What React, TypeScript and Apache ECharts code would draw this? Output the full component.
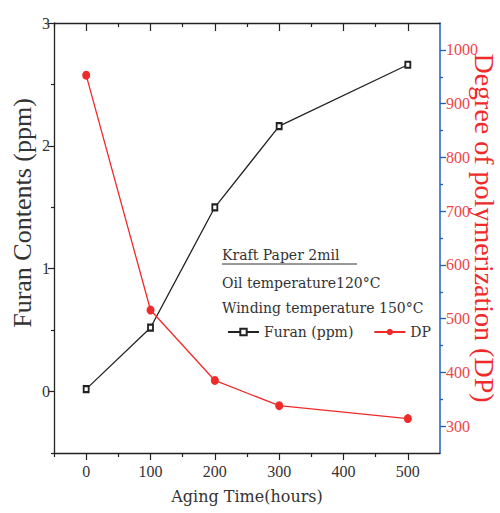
import React, { useEffect, useRef } from "react";
import * as echarts from "echarts";

const hours = [0, 100, 200, 300, 500];
const furanValues = [0.02, 0.52, 1.5, 2.16, 2.66];
const dpValues = [953, 516, 385, 338, 314];

const xMajor = [0, 100, 200, 300, 400, 500];
const xMinor = [-50, 50, 150, 250, 350, 450];
const leftMajor = [0, 1, 2, 3];
const leftMinor = [-0.5, 0.5, 1.5, 2.5];
const rightMajor = [300, 400, 500, 600, 700, 800, 900, 1000];
const rightMinor = [350, 450, 550, 650, 750, 850, 950];

const annotationLines = ["Kraft Paper 2mil", "Oil temperature120°C", "Winding temperature 150°C"];

const SERIF = "'Liberation Serif', 'Times New Roman', serif";
const ANNO = "'DejaVu Serif', serif";
const BLUE = "#1f5fc4";
const RED = "#ee2a2a";

export default function App() {
  const ref = useRef<HTMLDivElement>(null);
  useEffect(() => {
    if (!ref.current) return;
    const chart = echarts.init(ref.current, null, { renderer: "svg" });
    const blackLine = { show: true, onZero: false, lineStyle: { color: "#222", width: 1.3 } };
    const blueLine = { show: true, onZero: false, lineStyle: { color: BLUE, width: 1.5 } };
    const xBase = { type: "value", min: -50, max: 550, interval: 50, splitLine: { show: false } };
    const lBase = { type: "value", min: -0.5, max: 3, interval: 0.5, splitLine: { show: false } };
    const rBase = { type: "value", min: 250, max: 1050, interval: 50, splitLine: { show: false } };
    const plain = (v: number) => String(v);
    chart.setOption({
      animation: false,
      backgroundColor: "#fff",
      grid: { left: 54, right: 60, top: 23, bottom: 60 },
      xAxis: [
        {
          ...xBase,
          position: "bottom",
          axisLine: blackLine,
          axisTick: { show: true, customValues: xMajor, length: 7, lineStyle: { color: "#222", width: 1.2 } },
          axisLabel: { show: true, customValues: xMajor, formatter: plain, color: "#333", fontFamily: SERIF, fontSize: 16, margin: 10 },
        },
        {
          ...xBase,
          position: "bottom",
          axisLine: { show: false, onZero: false },
          axisTick: { show: true, customValues: xMinor, length: 4, lineStyle: { color: "#222", width: 1.2 } },
          axisLabel: { show: false },
        },
        {
          ...xBase,
          position: "top",
          axisLine: blackLine,
          axisTick: { show: true, inside: true, customValues: xMajor, length: 8, lineStyle: { color: "#222", width: 1.2 } },
          axisLabel: { show: false },
        },
        {
          ...xBase,
          position: "top",
          axisLine: { show: false, onZero: false },
          axisTick: { show: true, inside: true, customValues: xMinor, length: 4, lineStyle: { color: "#222", width: 1.2 } },
          axisLabel: { show: false },
        },
      ],
      yAxis: [
        {
          ...lBase,
          position: "left",
          axisLine: blackLine,
          axisTick: { show: true, customValues: leftMajor, length: 6, lineStyle: { color: "#222", width: 1.2 } },
          axisLabel: { show: true, customValues: leftMajor, formatter: plain, color: "#333", fontFamily: SERIF, fontSize: 16, margin: 4 },
        },
        {
          ...lBase,
          position: "left",
          axisLine: { show: false, onZero: false },
          axisTick: { show: true, customValues: leftMinor, length: 3, lineStyle: { color: "#222", width: 1.2 } },
          axisLabel: { show: false },
        },
        {
          ...rBase,
          position: "right",
          axisLine: blueLine,
          axisTick: { show: true, customValues: rightMajor, length: 6, lineStyle: { color: BLUE, width: 1.3 } },
          axisLabel: { show: true, customValues: rightMajor, formatter: plain, color: "#f04646", fontFamily: SERIF, fontSize: 16, margin: 6 },
        },
        {
          ...rBase,
          position: "right",
          axisLine: { show: false, onZero: false },
          axisTick: { show: true, customValues: rightMinor, length: 3, lineStyle: { color: BLUE, width: 1.3 } },
          axisLabel: { show: false },
        },
      ],
      legend: {
        left: 222,
        top: 320,
        itemWidth: 31,
        itemHeight: 8,
        itemGap: 20,
        textStyle: { fontFamily: ANNO, fontSize: 14, color: "#333" },
        data: ["Furan (ppm)", "DP"],
      },
      graphic: [
        {
          type: "text",
          x: 22,
          y: 213,
          rotation: Math.PI / 2,
          style: { text: "Furan Contents (ppm)", fontFamily: SERIF, fontSize: 26, fill: "#333", align: "center", verticalAlign: "middle" },
        },
        {
          type: "text",
          x: 484,
          y: 228,
          rotation: -Math.PI / 2,
          style: { text: "Degree of polymerization (DP)", fontFamily: SERIF, fontSize: 28, fill: RED, align: "center", verticalAlign: "middle" },
        },
        {
          type: "text",
          x: 247,
          y: 496,
          style: { text: "Aging Time(hours)", fontFamily: ANNO, fontSize: 16, fill: "#333", align: "center", verticalAlign: "middle" },
        },
        ...annotationLines.map((t, i) => ({
          type: "text",
          x: 222,
          y: [255, 283, 308][i],
          style: { text: t, fontFamily: ANNO, fontSize: 14, fill: "#333", align: "left", verticalAlign: "middle" },
        })),
        {
          type: "line",
          shape: { x1: 222, y1: 264, x2: 357, y2: 264 },
          style: { stroke: "#333", lineWidth: 1 },
        },
      ],
      series: [
        {
          name: "Furan (ppm)",
          type: "line",
          xAxisIndex: 0,
          yAxisIndex: 0,
          data: hours.map((h, i) => [h, furanValues[i]]),
          symbol: "emptyRect",
          symbolSize: [5, 6],
          lineStyle: { color: "#222", width: 1.3 },
          itemStyle: { color: "#222", borderWidth: 1.3 },
        },
        {
          name: "DP",
          type: "line",
          xAxisIndex: 0,
          yAxisIndex: 2,
          data: hours.map((h, i) => [h, dpValues[i]]),
          symbol: "circle",
          symbolSize: [8, 9],
          lineStyle: { color: RED, width: 1.3 },
          itemStyle: { color: RED },
        },
      ],
    });
    return () => chart.dispose();
  }, []);
  return <div ref={ref} style={{ position: "fixed", left: 0, top: 0, width: 500, height: 513 }} />;
}
